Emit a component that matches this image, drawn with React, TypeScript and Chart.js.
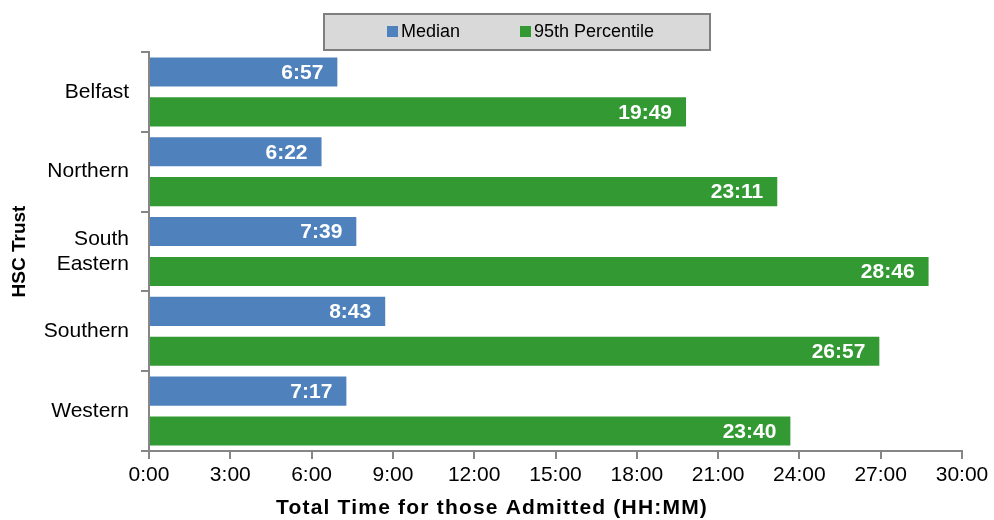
import React, { useEffect, useRef } from 'react';
import { Chart, registerables } from 'chart.js';

Chart.register(...registerables);

// HSC Trusts on the category axis (multi-line labels as arrays)
const trusts: string[][] = [['Belfast'], ['Northern'], ['South', 'Eastern'], ['Southern'], ['Western']];

// Total time in minutes for those admitted
const medianMinutes = [417, 382, 459, 523, 437];
const p95Minutes = [1189, 1391, 1726, 1617, 1420];

// Axis range in minutes (0:00 to 30:00, every 3 hours)
const axisMax = 1800;
const axisStep = 180;

const seriesNames = ['Median', '95th Percentile'];
const seriesColors = ['#4f81bd', '#339933'];

const FONT = '"Liberation Sans", Arial, sans-serif';
const AXIS_GREY = '#868686';

const toHHMM = (mins: number) => {
  const h = Math.floor(mins / 60);
  const m = Math.round(mins - h * 60);
  return `${h}:${m.toString().padStart(2, '0')}`;
};

const decorations = {
  id: 'decorations',
  afterDatasetsDraw(chart: any) {
    const ctx = chart.ctx as CanvasRenderingContext2D;
    // value labels inside the end of each bar
    ctx.save();
    ctx.font = `bold 21px ${FONT}`;
    ctx.fillStyle = '#ffffff';
    ctx.textAlign = 'right';
    ctx.textBaseline = 'middle';
    chart.data.datasets.forEach((ds: any, di: number) => {
      const meta = chart.getDatasetMeta(di);
      meta.data.forEach((el: any, i: number) => {
        ctx.fillText(toHHMM(ds.data[i]), el.x - 14, el.y + 1);
      });
    });
    ctx.restore();
  },
  afterDraw(chart: any) {
    const ctx = chart.ctx as CanvasRenderingContext2D;
    const area = chart.chartArea;

    // legend panel
    ctx.save();
    const bx = 324, by = 14, bw = 386, bh = 36;
    ctx.fillStyle = '#d9d9d9';
    ctx.fillRect(bx, by, bw, bh);
    ctx.strokeStyle = '#7f7f7f';
    ctx.lineWidth = 2;
    ctx.strokeRect(bx, by, bw, bh);
    ctx.font = `18px ${FONT}`;
    ctx.textBaseline = 'middle';
    ctx.textAlign = 'left';
    const itemX = [387, 520];
    seriesNames.forEach((name, i) => {
      ctx.fillStyle = seriesColors[i];
      ctx.fillRect(itemX[i], by + 12, 11, 11);
      ctx.fillStyle = '#000000';
      ctx.fillText(name, itemX[i] + 14, by + 18);
    });
    ctx.restore();

    // axis titles
    ctx.save();
    ctx.fillStyle = '#000000';
    ctx.font = `bold 21px ${FONT}`;
    ctx.textAlign = 'center';
    ctx.textBaseline = 'middle';
    (ctx as any).letterSpacing = '1.2px';
    ctx.fillText('Total Time for those Admitted (HH:MM)', 492, 508);
    (ctx as any).letterSpacing = '0px';
    ctx.font = `bold 19px ${FONT}`;
    ctx.translate(20, (area.top + area.bottom) / 2);
    ctx.rotate(-Math.PI / 2);
    ctx.fillText('HSC Trust', 0, 0);
    ctx.restore();
  },
};

export default function App() {
  const canvasRef = useRef<HTMLCanvasElement | null>(null);

  useEffect(() => {
    if (!canvasRef.current) return;
    const chart = new Chart(canvasRef.current, {
      type: 'bar',
      data: {
        labels: trusts,
        datasets: [
          {
            label: seriesNames[0],
            data: medianMinutes,
            backgroundColor: seriesColors[0],
            borderWidth: 0,
            categoryPercentage: 1,
            barPercentage: 0.73,
          },
          {
            label: seriesNames[1],
            data: p95Minutes,
            backgroundColor: seriesColors[1],
            borderWidth: 0,
            categoryPercentage: 1,
            barPercentage: 0.73,
          },
        ],
      },
      options: {
        indexAxis: 'y',
        responsive: false,
        animation: false,
        layout: { padding: { top: 52, right: 32, left: 0, bottom: 0 } },
        plugins: {
          legend: { display: false },
          tooltip: { enabled: false },
        },
        scales: {
          x: {
            type: 'linear',
            min: 0,
            max: axisMax,
            ticks: {
              stepSize: axisStep,
              callback: (v: any) => toHHMM(Number(v)),
              font: { family: FONT, size: 21 },
              color: '#000000',
              padding: 4,
              maxRotation: 0,
            },
            grid: { drawOnChartArea: false, drawTicks: true, tickLength: 8, color: AXIS_GREY, lineWidth: 2 },
            border: { color: AXIS_GREY, width: 2 },
            afterFit: (s: any) => {
              s.height = 69;
            },
          },
          y: {
            type: 'category',
            ticks: {
              font: { family: FONT, size: 21 },
              color: '#000000',
              padding: 12,
            },
            grid: { drawOnChartArea: false, drawTicks: true, tickLength: 8, color: AXIS_GREY, lineWidth: 2, offset: true },
            border: { color: AXIS_GREY, width: 2 },
            afterFit: (s: any) => {
              s.width = 149;
            },
          },
        },
      },
      plugins: [decorations],
    } as any);
    return () => chart.destroy();
  }, []);

  return (
    <div style={{ position: 'absolute', left: 0, top: 0, width: 994, height: 520, background: '#ffffff' }}>
      <canvas ref={canvasRef} width={994} height={520} style={{ display: 'block' }} />
    </div>
  );
}
